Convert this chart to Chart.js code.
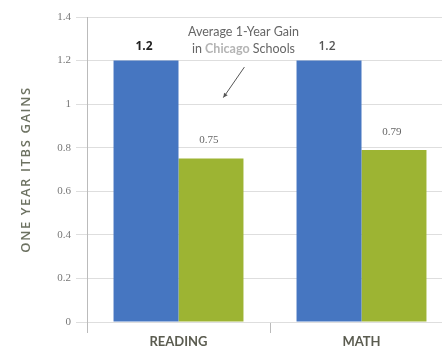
<!DOCTYPE html>
<html>
<head>
<meta charset="utf-8">
<script src="https://cdn.jsdelivr.net/npm/chart.js@4/dist/chart.umd.min.js"></script>
<style>
  html, body { margin: 0; padding: 0; background: #fff; overflow: hidden; }
  #wrap { width: 456px; height: 351px; }
</style>
</head>
<body>
<div id="wrap"><canvas id="c" width="456" height="351"></canvas></div>
<script>
const categories = ['READING', 'MATH'];
const seriesNames = ['Average 1-Year Gain in Chicago Schools', 'School'];
const chicagoValues = [1.2, 1.2];
const schoolValues = [0.75, 0.79];
const yTicks = [0, 0.2, 0.4, 0.6, 0.8, 1, 1.2, 1.4];
const valueLabels = [['1.2', '1.2'], ['0.75', '0.79']];

const labelPlugin = {
  id: 'valueLabels',
  afterLayout(chart) {
    const s = chart.scales.y;
    if (!s._lsPatched) {
      const orig = s.drawTitle;
      s.drawTitle = function (area) {
        this.ctx.save();
        this.ctx.letterSpacing = '1.6px';
        orig.call(this, area);
        this.ctx.restore();
      };
      s._lsPatched = true;
    }
  },
  afterDatasetsDraw(chart) {
    const ctx = chart.ctx;
    ctx.save();
    ctx.textAlign = 'center';
    ctx.textBaseline = 'middle';
    chart.data.datasets.forEach((ds, di) => {
      const meta = chart.getDatasetMeta(di);
      meta.data.forEach((bar, i) => {
        if (di === 0) {
          ctx.font = (i === 0 ? 'bold ' : '600 ') + '12px "Open Sans", sans-serif';
          ctx.fillStyle = i === 0 ? '#222' : '#555';
        } else {
          ctx.font = '11px "Liberation Serif", serif';
          ctx.fillStyle = '#666';
        }
        ctx.fillText(valueLabels[di][i], bar.x - 2, bar.y - (di === 0 ? 14 : 18));
      });
    });
    // annotation
    const xs = chart.scales.x, ys = chart.scales.y;
    const c0 = xs.getPixelForValue(0);
    const cw = xs.getPixelForValue(1) - c0;
    const tx = c0 + cw * 0.355;
    const F = '12.5px Lato, sans-serif', FB = 'bold 12.5px Lato, sans-serif';
    ctx.font = F;
    ctx.fillStyle = '#666';
    ctx.textAlign = 'center';
    ctx.fillText('Average 1-Year Gain', tx, ys.getPixelForValue(1.33));
    const l1 = 'in ', l2 = 'Chicago', l3 = ' Schools';
    const w1 = ctx.measureText(l1).width;
    const w3 = ctx.measureText(l3).width;
    ctx.font = FB;
    const w2 = ctx.measureText(l2).width;
    const total = w1 + w2 + w3;
    let x = tx - total / 2;
    const ly = ys.getPixelForValue(1.255);
    ctx.textAlign = 'left';
    ctx.font = F;
    ctx.fillStyle = '#666';
    ctx.fillText(l1, x, ly); x += w1;
    ctx.font = FB;
    ctx.fillStyle = '#b4b4b4';
    ctx.fillText(l2, x, ly); x += w2;
    ctx.font = F;
    ctx.fillStyle = '#666';
    ctx.fillText(l3, x, ly);
    // arrow
    const ax0 = c0 + cw * 0.36, ay0 = ys.getPixelForValue(1.17);
    const ax1 = c0 + cw * 0.245, ay1 = ys.getPixelForValue(1.03);
    ctx.strokeStyle = '#555';
    ctx.lineWidth = 1;
    ctx.beginPath();
    ctx.moveTo(ax0, ay0);
    ctx.lineTo(ax1, ay1);
    ctx.stroke();
    const ang = Math.atan2(ay1 - ay0, ax1 - ax0);
    ctx.fillStyle = '#555';
    ctx.beginPath();
    ctx.moveTo(ax1, ay1);
    ctx.lineTo(ax1 - 5 * Math.cos(ang - 0.45), ay1 - 5 * Math.sin(ang - 0.45));
    ctx.lineTo(ax1 - 5 * Math.cos(ang + 0.45), ay1 - 5 * Math.sin(ang + 0.45));
    ctx.closePath();
    ctx.fill();
    ctx.restore();
  }
};

new Chart(document.getElementById('c'), {
  type: 'bar',
  data: {
    labels: categories,
    datasets: [
      { label: seriesNames[0], data: chicagoValues, backgroundColor: '#4676c1', borderWidth: 0 },
      { label: seriesNames[1], data: schoolValues, backgroundColor: '#9db433', borderWidth: 0 }
    ]
  },
  options: {
    responsive: false,
    animation: false,
    devicePixelRatio: 1,
    layout: { padding: { top: 17, right: 3, left: 0, bottom: 0 } },
    datasets: { bar: { categoryPercentage: 0.71, barPercentage: 1.0 } },
    plugins: { legend: { display: false }, tooltip: { enabled: false } },
    scales: {
      x: {
        offset: true,
        grid: { display: true, drawOnChartArea: false, drawTicks: true, tickLength: 11, color: '#bbb', offset: true },
        border: { display: false },
        ticks: { color: '#5b5c50', font: { family: 'Lato, sans-serif', size: 13, weight: 'bold' }, padding: 1 },
        afterFit(s) { s.height = 29; }
      },
      y: {
        min: 0, max: 1.4,
        afterBuildTicks(s) { s.ticks = yTicks.map(v => ({ value: v })); },
        grid: { color: '#dedede', tickLength: 11, drawTicks: true },
        border: { display: true, color: '#bbb' },
        ticks: { color: '#777', font: { family: '"Liberation Serif", serif', size: 11 }, padding: 5,
                 callback: v => String(v) },
        title: { display: true, text: 'ONE YEAR ITBS GAINS', color: '#6d7262',
                 font: { family: '"Open Sans", sans-serif', size: 13, weight: '600' }, padding: { top: 18, bottom: 0 } },
        afterFit(s) { s.width = 87; }
      }
    }
  },
  plugins: [labelPlugin]
});
</script>
</body>
</html>
